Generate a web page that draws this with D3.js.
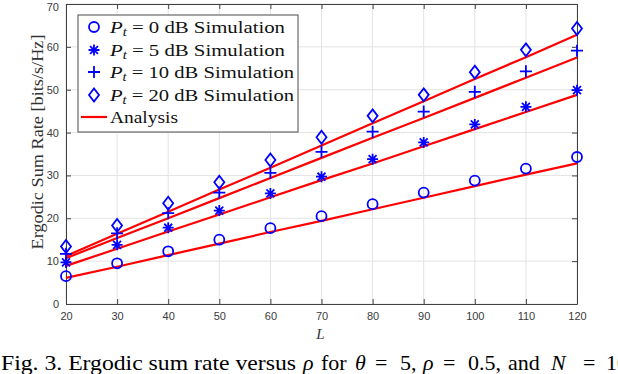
<!DOCTYPE html>
<html>
<head>
<meta charset="utf-8">
<script src="https://cdn.jsdelivr.net/npm/d3@7"></script>
<style>
  html, body { margin: 0; padding: 0; background: #fff; overflow: hidden; }
  svg { display: block; }
</style>
</head>
<body>
<div id="chart"></div>
<script>
// ── Data ───────────────────────────────────────────────────────
const L_VALUES = [20, 30, 40, 50, 60, 70, 80, 90, 100, 110, 120];

const SIM_P0  = [6.5, 9.5, 12.3, 15.0, 17.7, 20.5, 23.3, 26.0, 28.8, 31.6, 34.3];
const SIM_P5  = [9.7, 13.8, 17.8, 21.8, 25.8, 29.7, 33.8, 37.7, 41.9, 46.0, 49.9];
const SIM_P10 = [11.7, 16.5, 21.2, 26.0, 30.6, 35.5, 40.2, 44.9, 49.5, 54.3, 59.1];
const SIM_P20 = [13.4, 18.3, 23.5, 28.4, 33.6, 38.9, 43.9, 48.8, 54.1, 59.3, 64.3];

const ANA_P0  = [6.1, 8.7, 11.4, 14.1, 16.8, 19.4, 22.1, 24.8, 27.5, 30.2, 32.8];
const ANA_P5  = [8.9, 12.9, 16.9, 20.9, 24.9, 28.9, 32.8, 36.8, 40.8, 44.8, 48.8];
const ANA_P10 = [10.7, 15.4, 20.0, 24.7, 29.4, 34.1, 38.8, 43.4, 48.1, 52.8, 57.5];
const ANA_P20 = [11.2, 16.4, 21.5, 26.7, 31.8, 37.0, 42.2, 47.3, 52.5, 57.6, 62.8];

const X_TICKS = [20, 30, 40, 50, 60, 70, 80, 90, 100, 110, 120];
const Y_TICKS = [0, 10, 20, 30, 40, 50, 60, 70];

const SERIES = [
  { pt: '0',  sim: SIM_P0,  ana: ANA_P0,  marker: 'circle'  },
  { pt: '5',  sim: SIM_P5,  ana: ANA_P5,  marker: 'star'    },
  { pt: '10', sim: SIM_P10, ana: ANA_P10, marker: 'plus'    },
  { pt: '20', sim: SIM_P20, ana: ANA_P20, marker: 'diamond' },
];

// caption pieces: [text, x, italic]
const CAPTION = [
  ['ρ', 303, true], ['for', 321, false], ['θ', 355, true], ['=', 375, false],
  ['5,', 400, false], ['ρ', 423, true], ['=', 443, false], ['0.5,', 468, false],
  ['and', 508, false], ['N', 551, true], ['=', 583, false], ['10', 606, false],
];

// ── Styling ────────────────────────────────────────────────────
const W = 618, H = 374;
const M = { left: 66, right: 577, top: 4, bottom: 304 };
const BLUE = '#0000ff';
const RED = '#ff0000';
const AXIS = '#404040';
const GRID = '#e3e3e3';
const SERIF = "'Liberation Serif','DejaVu Serif',serif";
const SANS = "'Liberation Sans',Arial,Helvetica,sans-serif";

const svg = d3.select('#chart').append('svg')
  .attr('width', W).attr('height', H)
  .attr('viewBox', `0 0 ${W} ${H}`);

const x = d3.scaleLinear().domain([20, 120]).range([M.left, M.right]);
const y = d3.scaleLinear().domain([0, 70]).range([M.bottom, M.top]);

// ── Grid ───────────────────────────────────────────────────────
svg.append('g').selectAll('line').data(X_TICKS).join('line')
  .attr('x1', d => x(d)).attr('x2', d => x(d))
  .attr('y1', M.top).attr('y2', M.bottom)
  .attr('stroke', GRID).attr('stroke-width', 1);
svg.append('g').selectAll('line').data(Y_TICKS).join('line')
  .attr('x1', M.left).attr('x2', M.right)
  .attr('y1', d => y(d)).attr('y2', d => y(d))
  .attr('stroke', GRID).attr('stroke-width', 1);

// ── Axes (MATLAB-style box, inward ticks) ──────────────────────
const tickLen = 5;
const xAxis = d3.axisBottom(x).tickValues(X_TICKS).tickSizeInner(-tickLen).tickSizeOuter(0).tickPadding(8);
const yAxis = d3.axisLeft(y).tickValues(Y_TICKS).tickSizeInner(-tickLen).tickSizeOuter(0).tickPadding(7);
const xTop = d3.axisTop(x).tickValues(X_TICKS).tickSizeInner(-tickLen).tickSizeOuter(0).tickFormat('');
const yRight = d3.axisRight(y).tickValues(Y_TICKS).tickSizeInner(-tickLen).tickSizeOuter(0).tickFormat('');

function styleAxis(g) {
  g.select('.domain').attr('stroke', AXIS).attr('stroke-width', 1);
  g.selectAll('.tick line').attr('stroke', AXIS);
  g.selectAll('.tick text').attr('fill', '#3a3a3a')
    .attr('font-family', SANS).attr('font-size', 11);
}

svg.append('g').attr('transform', `translate(0,${M.bottom})`).call(xAxis).call(styleAxis);
const gy = svg.append('g').attr('transform', `translate(${M.left},0)`).call(yAxis).call(styleAxis);
// top label sits right at the edge; nudge it down just enough to stay whole
gy.selectAll('.tick text').filter(d => d === 70).attr('dy', '0.55em');
svg.append('g').attr('transform', `translate(0,${M.top})`).call(xTop).call(styleAxis);
svg.append('g').attr('transform', `translate(${M.right},0)`).call(yRight).call(styleAxis);

// ── Analysis lines ─────────────────────────────────────────────
const line = d3.line().x((d, i) => x(L_VALUES[i])).y(d => y(d));
SERIES.forEach(s => {
  svg.append('path').datum(s.ana)
    .attr('d', line)
    .attr('fill', 'none').attr('stroke', RED).attr('stroke-width', 2.2);
});

// ── Markers ────────────────────────────────────────────────────
function drawMarker(g, kind, cx, cy) {
  if (kind === 'circle') {
    g.append('circle').attr('cx', cx).attr('cy', cy).attr('r', 5)
      .attr('fill', 'none').attr('stroke', BLUE).attr('stroke-width', 1.8);
  } else if (kind === 'diamond') {
    const r = 6.5, w = 5;
    g.append('path')
      .attr('d', `M${cx},${cy - r}L${cx + w},${cy}L${cx},${cy + r}L${cx - w},${cy}Z`)
      .attr('fill', 'none').attr('stroke', BLUE).attr('stroke-width', 1.8);
  } else if (kind === 'plus') {
    const r = 6;
    g.append('path')
      .attr('d', `M${cx - r},${cy}H${cx + r}M${cx},${cy - r}V${cy + r}`)
      .attr('fill', 'none').attr('stroke', BLUE).attr('stroke-width', 1.8);
  } else if (kind === 'star') {
    const r = 5.5, d = r * 0.72;
    g.append('path')
      .attr('d', `M${cx - r},${cy}H${cx + r}M${cx},${cy - r}V${cy + r}` +
        `M${cx - d},${cy - d}L${cx + d},${cy + d}M${cx - d},${cy + d}L${cx + d},${cy - d}`)
      .attr('fill', 'none').attr('stroke', BLUE).attr('stroke-width', 1.8);
  }
}

SERIES.forEach(s => {
  const g = svg.append('g');
  s.sim.forEach((v, i) => drawMarker(g, s.marker, x(L_VALUES[i]), y(v)));
});

// ── Legend ─────────────────────────────────────────────────────
const leg = svg.append('g');
leg.append('rect').attr('x', 78).attr('y', 15).attr('width', 220).attr('height', 117)
  .attr('fill', '#fff').attr('stroke', '#4a4a4a').attr('stroke-width', 1);

const rowY = [27, 50, 72, 95, 117];
SERIES.forEach((s, i) => {
  drawMarker(leg, s.marker, 94, rowY[i]);
  const t = leg.append('text')
    .attr('x', 110).attr('y', rowY[i] + 5.5)
    .attr('font-family', SERIF).attr('font-size', 16.5).attr('fill', '#111')
    .attr('textLength', s.pt.length > 1 ? 184 : 175)
    .attr('lengthAdjust', 'spacingAndGlyphs');
  t.append('tspan').attr('font-style', 'italic').text('P');
  t.append('tspan').attr('font-style', 'italic').attr('font-size', 11.5).attr('dy', 3).text('t');
  t.append('tspan').attr('dy', -3).text(` = ${s.pt} dB Simulation`);
});
leg.append('line').attr('x1', 81).attr('x2', 107)
  .attr('y1', rowY[4]).attr('y2', rowY[4])
  .attr('stroke', RED).attr('stroke-width', 2.2);
leg.append('text').attr('x', 110).attr('y', rowY[4] + 5.5)
  .attr('font-family', SERIF).attr('font-size', 16.5).attr('fill', '#111')
  .attr('textLength', 68).attr('lengthAdjust', 'spacingAndGlyphs')
  .text('Analysis');

// ── Axis labels ────────────────────────────────────────────────
svg.append('text')
  .attr('transform', 'translate(43,142) rotate(-90)')
  .attr('text-anchor', 'middle')
  .attr('font-family', SERIF).attr('font-size', 16).attr('fill', '#333')
  .attr('textLength', 215).attr('lengthAdjust', 'spacingAndGlyphs')
  .text('Ergodic Sum Rate [bits/s/Hz]');

svg.append('text')
  .attr('x', (M.left + M.right) / 2 - 1).attr('y', 339)
  .attr('text-anchor', 'middle')
  .attr('font-family', SERIF).attr('font-style', 'italic').attr('font-size', 15).attr('fill', '#333')
  .text('L');

// ── Caption (runs past the right edge, as in the figure) ───────
svg.append('text')
  .attr('x', 1).attr('y', 370)
  .attr('font-family', SERIF).attr('font-size', 22).attr('fill', '#000')
  .attr('textLength', 295).attr('lengthAdjust', 'spacingAndGlyphs')
  .text('Fig. 3.  Ergodic sum rate versus');

svg.append('g').selectAll('text').data(CAPTION).join('text')
  .attr('x', d => d[1]).attr('y', 370)
  .attr('font-family', SERIF).attr('font-size', 22).attr('fill', '#000')
  .attr('font-style', d => d[2] ? 'italic' : 'normal')
  .text(d => d[0]);
</script>
</body>
</html>
